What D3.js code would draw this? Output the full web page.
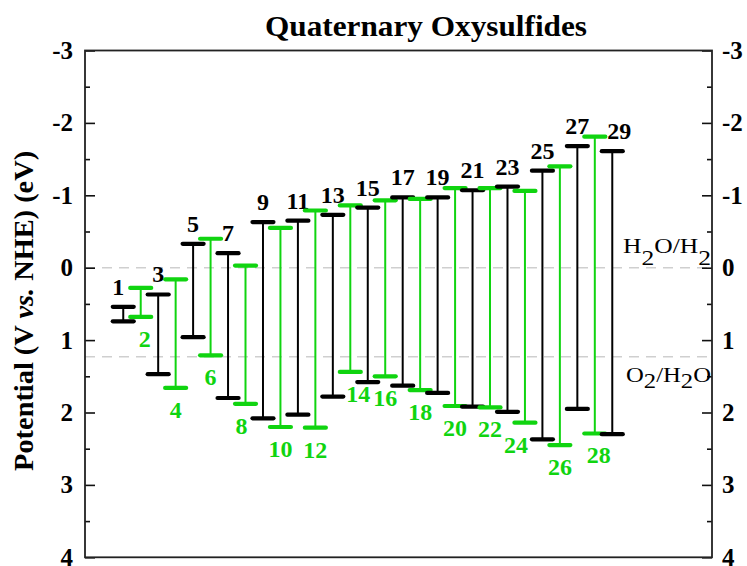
<!DOCTYPE html>
<html>
<head>
<meta charset="utf-8">
<script src="https://cdn.jsdelivr.net/npm/d3@7"></script>
<style>
	body { margin: 0; background: #fff; }
	svg { display: block; font-family: "Liberation Serif", "Times New Roman", serif; }
</style>
</head>
<body>
<div id="chart"></div>
<script>
// compound index 1..29 (odd = black, even = green)
const ids = d3.range(1, 30);
// conduction band edge (top cap) in V vs NHE
const cbm = [
	0.54, 0.28, 0.37, 0.16, -0.33, -0.40, -0.20, -0.03, -0.63, -0.55,
	-0.65, -0.79, -0.73, -0.86, -0.83, -0.93, -0.97, -0.95, -0.97, -1.10,
	-1.07, -1.10, -1.12, -1.06, -1.34, -1.40, -1.68, -1.81, -1.61
];
// valence band edge (bottom cap)
const vbm = [
	0.74, 0.68, 1.47, 1.66, 0.96, 1.21, 1.80, 1.88, 2.08, 2.20,
	2.03, 2.21, 1.78, 1.44, 1.58, 1.50, 1.63, 1.69, 1.73, 1.91,
	1.92, 1.93, 1.99, 2.14, 2.37, 2.45, 1.95, 2.29, 2.30
];
const yTicks = [-3, -2, -1, 0, 1, 2, 3, 4];
const refLevels = [0, 1.23];

const GREEN = '#10d410';
const BLACK = '#000';

const width = 747;
const height = 566;
const marginLeft = 85;
const marginRight = 35;
const marginTop = 50.5;
const plotBottom = 557.3;

const scaleX = d3.scaleLinear().domain([-1.19, 34.71]).range([marginLeft, width - marginRight]);
const scaleY = d3.scaleLinear().domain([-3, 4]).range([marginTop, plotBottom]);

// small hand nudges for labels that sit off-centre in the original
const labelNudge = { 1: -5, 2: 4, 8: -4, 14: 8, 24: -9, 28: 4, 29: 7 };

const $svg = d3.select('#chart').append('svg')
	.attr('width', width)
	.attr('height', height);

// reference levels
$svg.append('g').selectAll('line')
	.data(refLevels)
	.join('line')
	.attr('x1', scaleX.range()[0])
	.attr('x2', scaleX.range()[1])
	.attr('y1', d => scaleY(d))
	.attr('y2', d => scaleY(d))
	.attr('stroke', '#cfcfcf')
	.attr('stroke-width', 1.6)
	.attr('stroke-dasharray', '10,7');

// axes
function drawAxis(axisFn, x, major) {
	const ticks = major ? yTicks : d3.range(-2.5, 4, 1);
	const size = major ? -10 : -5;
	const axis = axisFn(scaleY)
		.tickValues(ticks)
		.tickSize(size)
		.tickPadding(major ? 12 : 0)
		.tickFormat(major ? d => String(d) : '');
	const $g = $svg.append('g')
		.attr('transform', `translate(${x},0)`)
		.call(axis);
	$g.select('.domain').remove();
	$g.selectAll('line').attr('stroke', '#111').attr('stroke-width', 1.6);
	$g.selectAll('text')
		.attr('fill', '#000')
		.style('font-family', '"Liberation Serif", serif')
		.style('font-weight', 'bold')
		.style('font-size', '25px');
	return $g;
}
const xL = scaleX.range()[0];
const xR = scaleX.range()[1];
drawAxis(d3.axisLeft, xL, true);
drawAxis(d3.axisLeft, xL, false);
drawAxis(d3.axisRight, xR, true).selectAll('text').attr('x', 10);
drawAxis(d3.axisRight, xR, false);

// frame
$svg.append('rect')
	.attr('x', xL)
	.attr('y', scaleY(-3))
	.attr('width', xR - xL)
	.attr('height', scaleY(4) - scaleY(-3))
	.attr('fill', 'none')
	.attr('stroke', '#222')
	.attr('stroke-width', 1.8);

// bars
const rows = ids.map((id, i) => ({ id, top: cbm[i], bottom: vbm[i] }));
const capW = 10.5;

const $bar = $svg.append('g').selectAll('g.bar')
	.data(rows)
	.join('g')
	.attr('class', 'bar')
	.attr('color', d => (d.id % 2 ? BLACK : GREEN));

$bar.append('line')
	.attr('x1', d => scaleX(d.id))
	.attr('x2', d => scaleX(d.id))
	.attr('y1', d => scaleY(d.top))
	.attr('y2', d => scaleY(d.bottom))
	.attr('stroke', 'currentColor')
	.attr('stroke-width', 2);

['top', 'bottom'].forEach(key => {
	$bar.append('line')
		.attr('x1', d => scaleX(d.id) - capW)
		.attr('x2', d => scaleX(d.id) + capW)
		.attr('y1', d => scaleY(d[key]))
		.attr('y2', d => scaleY(d[key]))
		.attr('stroke', 'currentColor')
		.attr('stroke-width', 4.2)
		.attr('stroke-linecap', 'round');
});

$bar.append('text')
	.attr('x', d => scaleX(d.id) + (labelNudge[d.id] || 0))
	.attr('y', d => (d.id % 2 ? scaleY(d.top) - 12 : scaleY(d.bottom) + 30))
	.attr('text-anchor', 'middle')
	.attr('fill', 'currentColor')
	.style('font-weight', 'bold')
	.style('font-size', '24px')
	.text(d => d.id);

// title
$svg.append('text')
	.attr('x', 426)
	.attr('y', 36)
	.attr('text-anchor', 'middle')
	.attr('textLength', 322)
	.attr('lengthAdjust', 'spacingAndGlyphs')
	.style('font-weight', 'bold')
	.style('font-size', '29px')
	.text('Quaternary Oxysulfides');

// y label
const $yl = $svg.append('text')
	.attr('transform', `translate(33,${(marginTop + plotBottom) / 2 + 7}) rotate(-90)`)
	.attr('text-anchor', 'middle')
	.attr('textLength', 320)
	.attr('lengthAdjust', 'spacingAndGlyphs')
	.style('font-weight', 'bold')
	.style('font-size', '28px');
$yl.append('tspan').text('Potential (V ');
$yl.append('tspan').style('font-style', 'italic').text('vs.');
$yl.append('tspan').text(' NHE) (eV)');

// redox level labels
function chem(x, y, parts, shift, len) {
	const $t = $svg.append('text')
		.attr('x', x - len)
		.attr('y', y)
		.attr('textLength', len)
		.attr('lengthAdjust', 'spacingAndGlyphs')
		.style('font-size', '22px');
	let sub = false;
	parts.forEach(p => {
		const isSub = p === '2';
		const dy = isSub && !sub ? shift : !isSub && sub ? -shift : 0;
		$t.append('tspan').attr('dy', dy).text(p);
		sub = isSub;
	});
	return $t;
}
chem(711, 253, ['H', '2', 'O/H', '2'], 12, 88);
chem(711, 382, ['O', '2', '/H', '2', 'O'], 6, 85);
</script>
</body>
</html>
